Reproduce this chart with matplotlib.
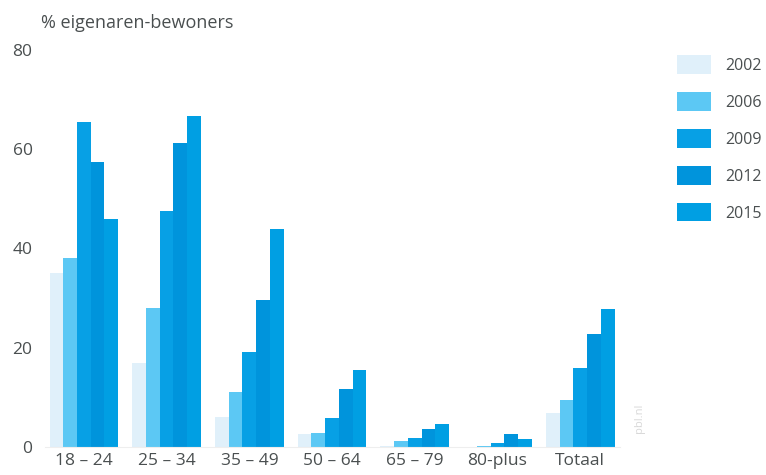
import numpy as np
import matplotlib
matplotlib.use("Agg")
from matplotlib import pyplot as plt
from matplotlib.patches import Patch

# Share of owner-occupiers per age group, per survey year.
groups = ["18 – 24", "25 – 34", "35 – 49", "50 – 64", "65 – 79", "80-plus", "Totaal"]
years = ["2002", "2006", "2009", "2012", "2015"]

v2002 = [35.0, 17.0, 6.0, 2.6, 0.3, 0.1, 6.8]
v2006 = [38.0, 28.0, 11.0, 2.8, 1.2, 0.2, 9.5]
v2009 = [65.5, 47.6, 19.2, 5.9, 1.8, 0.8, 16.0]
v2012 = [57.5, 61.3, 29.6, 11.7, 3.6, 2.6, 22.8]
v2015 = [46.0, 66.7, 44.0, 15.5, 4.6, 1.7, 27.8]
series = [v2002, v2006, v2009, v2012, v2015]

colors = ["#e0f0fa", "#5cc8f4", "#07a0e5", "#0094dc", "#009fe3"]
text_col = "#4a4f50"

plt.rcParams["font.family"] = ["Open Sans", "DejaVu Sans"]

fig = plt.figure(figsize=(7.66, 4.75), dpi=100)
ax = fig.add_axes([45 / 766, 1 - 447 / 475, 575 / 766, 397 / 475])

x = np.arange(len(groups))
w = 0.166
for i, (vals, c) in enumerate(zip(series, colors)):
    ax.bar(x + (i - 2) * w, vals, width=w, color=c, linewidth=0)

ax.set_xlim(-0.47, 6.48)
ax.set_ylim(0, 80)
ax.set_yticks([0, 20, 40, 60, 80])
ax.set_yticklabels(["0", "20", "40", "60", "80"])
ax.set_xticks(x)
ax.set_xticklabels(groups)
for s in ["top", "right", "left"]:
    ax.spines[s].set_visible(False)
ax.spines["bottom"].set_color("#eeeeee")
ax.tick_params(axis="both", length=0, labelsize=12.5, labelcolor=text_col)
ax.tick_params(axis="y", pad=9)
ax.tick_params(axis="x", pad=4)

fig.text(41 / 766, 1 - 23 / 475, "% eigenaren-bewoners", fontsize=13,
         color=text_col, va="center", ha="left")

handles = [Patch(facecolor=c, edgecolor="none") for c in colors]
fig.legend(handles, years, loc="upper left", bbox_to_anchor=(663 / 766, 1 - 41 / 475),
           frameon=False, fontsize=11.5, labelcolor=text_col, handlelength=2.1,
           handleheight=1.4, labelspacing=1.15, handletextpad=0.9)

fig.text(640 / 766, 1 - 418 / 475, "pbl.nl", rotation=90, fontsize=8,
         color="#d8d8d8", ha="center", va="center")

plt.savefig("out.png", dpi=100)
